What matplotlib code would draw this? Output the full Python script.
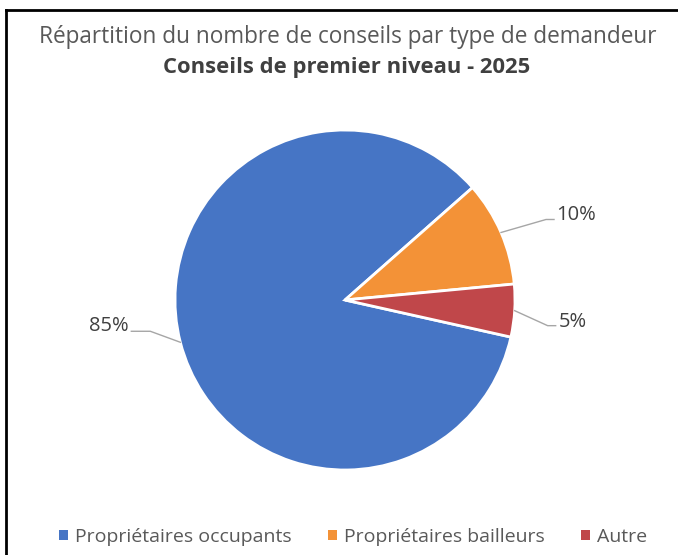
import numpy as np
import matplotlib
matplotlib.use("Agg")
import matplotlib.pyplot as plt
from matplotlib.lines import Line2D
from matplotlib.patches import Rectangle

categories = ["Propriétaires occupants", "Propriétaires bailleurs", "Autre"]
values = [85, 10, 5]
labels = ["85%", "10%", "5%"]
colors = ["#4675C5", "#F39237", "#C0474A"]
title_line1 = "Répartition du nombre de conseils par type de demandeur"
title_line2 = "Conseils de premier niveau - 2025"

plt.rcParams["font.family"] = ["Open Sans", "DejaVu Sans"]
W, H = 678, 555
fig = plt.figure(figsize=(W / 100, H / 100), dpi=100)
fig.patch.set_facecolor("white")

# frame (left and top border)
fig.add_artist(Line2D([6 / W, 6 / W], [0, 1 - 10 / H], color="black", lw=2, transform=fig.transFigure))
fig.add_artist(Line2D([6 / W, 1], [1 - 10 / H, 1 - 10 / H], color="black", lw=2, transform=fig.transFigure))

cx, cy, R = 345, 300, 170
ax = fig.add_axes([(cx - R) / W, (H - cy - R) / H, 2 * R / W, 2 * R / H])
wedges, _ = ax.pie(values, colors=colors, startangle=347.4, counterclock=False,
                   wedgeprops=dict(edgecolor="white", linewidth=2), radius=1)
ax.set_xlim(-1, 1)
ax.set_ylim(-1, 1)
ax.set_aspect("equal")
ax.axis("off")

# label layout: offsets in px relative to the wedge's outer mid point
layout = [
    dict(elbow=(-30, 11), end=(-49, 11), text=(-52, 16), ha="right"),
    dict(elbow=(45, 13), end=(53, 13), text=(55, 17), ha="left"),
    dict(elbow=(33, -15), end=(41, -15), text=(44, -11), ha="left"),
]
for w, lab, lay in zip(wedges, labels, layout):
    ang = np.deg2rad((w.theta1 + w.theta2) / 2)
    ax_, ay_ = np.cos(ang), np.sin(ang)
    ex, ey = ax_ + lay["elbow"][0] / R, ay_ + lay["elbow"][1] / R
    fx, fy = ax_ + lay["end"][0] / R, ay_ + lay["end"][1] / R
    ax.plot([ax_, ex, fx], [ay_, ey, fy], color="#A6A6A6", lw=1, clip_on=False)
    tx, ty = ax_ + lay["text"][0] / R, ay_ + lay["text"][1] / R
    ax.text(tx, ty, lab, ha=lay["ha"], va="center", fontsize=14.5, color="#404040", clip_on=False)

fig.text(348 / W, 1 - 37 / H, title_line1, ha="center", va="center", fontsize=16.3, color="#595959")
fig.text(347 / W, 1 - 68 / H, title_line2, ha="center", va="center", fontsize=15.8,
         color="#404040", fontweight="bold")

handles = [Rectangle((0, 0), 1, 1, facecolor=c, edgecolor="none") for c in colors]
leg = fig.legend(handles, categories, loc="center", bbox_to_anchor=(353 / W, 1 - 537 / H),
                 ncol=3, frameon=False, fontsize=14, handlelength=0.45, handleheight=0.45,
                 handletextpad=0.35, columnspacing=1.9, borderpad=0, borderaxespad=0)
for t in leg.get_texts():
    t.set_color("#595959")

fig.savefig("out.png", dpi=100, facecolor="white")
